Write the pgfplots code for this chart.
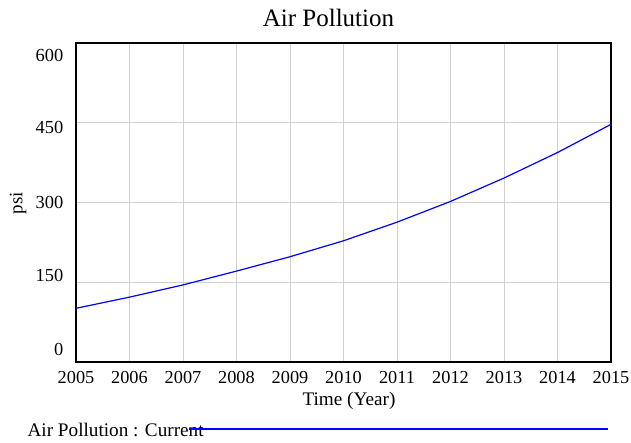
\documentclass[border=0pt]{standalone}
\usepackage{pgfplots}
\pgfplotsset{compat=1.18}
\usepackage{fontspec}
\setmainfont{Liberation Serif}
\begin{document}
\begin{tikzpicture}[x=1pt,y=1pt]
\useasboundingbox (0,0) rectangle (631,442);
\begin{axis}[
  at={(76pt,80pt)}, anchor=south west,
  width=535pt, height=319pt, scale only axis,
  xmin=2005, xmax=2015, ymin=0, ymax=600,
  xtick={2005,2006,...,2015}, ytick={0,150,300,450,600},
  yticklabels={},
  /pgf/number format/assume math mode=true,
  xticklabel style={/pgf/number format/1000 sep={}, font=\fontsize{18.3}{21}\selectfont, anchor=base, yshift=-21.3pt},
  major tick length=0pt,
  grid=major,
  major grid style={draw=black!18, line width=1pt},
  axis line style={line width=1.9pt},
  clip=false,
]
\addplot[blue, line width=1.2pt] coordinates {
 (2005,101) (2006,122) (2007,145) (2008,171) (2009,198) (2010,228)
 (2011,263) (2012,302) (2013,346) (2014,394) (2015,447)};
\end{axis}
\begin{scope}[every node/.style={font=\fontsize{18.4}{21}\selectfont, anchor=east, inner sep=0pt}]
\node at (63.5,442-349.5) {0};
\node at (63.5,442-275) {150};
\node at (63.5,442-202) {300};
\node at (63.5,442-127.5) {450};
\node at (63.5,442-55) {600};
\end{scope}
\node[font=\fontsize{25}{28}\selectfont, anchor=base, inner sep=0pt] at (328.5,415.3) {Air Pollution};
\node[font=\fontsize{19.2}{22}\selectfont, anchor=base, inner sep=0pt] at (349,36.3) {Time (Year)};
\node[font=\fontsize{19}{22}\selectfont, rotate=90, inner sep=0pt] at (18,239) {psi};
\node[font=\fontsize{19.2}{22}\selectfont, anchor=base west, inner sep=0pt] at (27.4,6) {Air Pollution : Current};
\draw[blue, line width=1.2pt] (189,13) -- (607.6,13);
\end{tikzpicture}
\end{document}
